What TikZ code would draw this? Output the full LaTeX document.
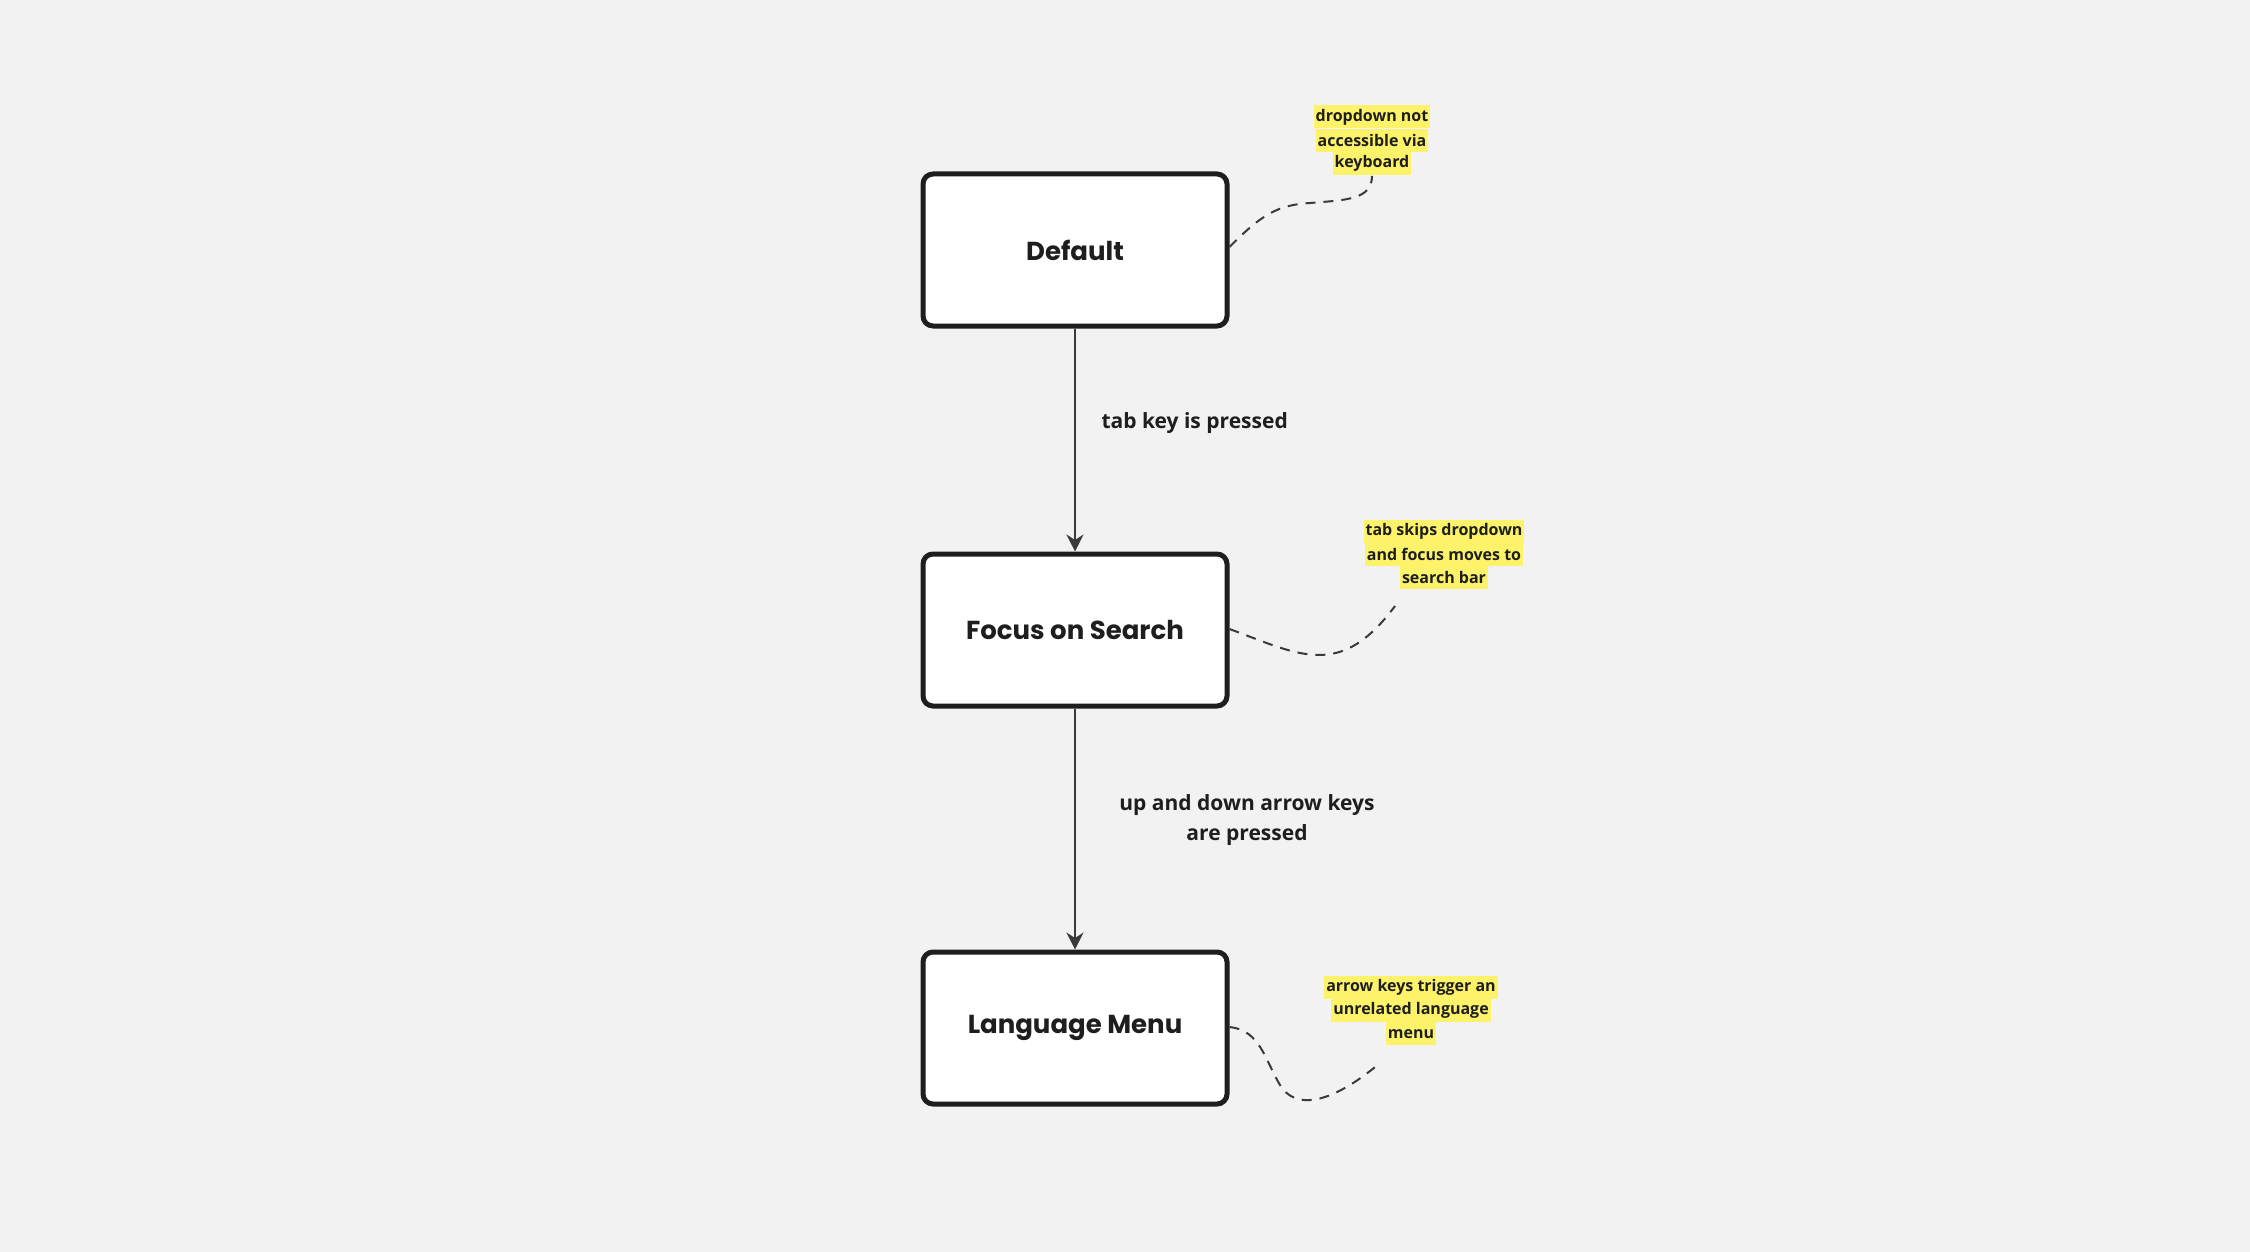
\documentclass[tikz,border=0pt]{standalone}
\usepackage{fontspec}
\setmainfont{Open Sans}
\newfontfamily\boxfont{Poppins}
\usepackage{tikz}
\usepackage{xcolor}
\usetikzlibrary{arrows.meta, positioning}

\definecolor{bgcol}{HTML}{F2F2F2}
\definecolor{inkcol}{HTML}{1E1E1E}
\definecolor{linecol}{HTML}{3A3A3A}
\definecolor{notecol}{HTML}{FCF36B}

\begin{document}
\begin{tikzpicture}[
        x=1pt, y=-1pt,
        state/.style={rectangle, rounded corners=10pt, draw=inkcol, line width=5pt, fill=white,
            minimum width=304pt, minimum height=152pt, font=\boxfont\bfseries\fontsize{26}{32}\selectfont, text=inkcol},
        trans/.style={font=\bfseries\fontsize{21}{30}\selectfont, text=inkcol, align=center},
        note/.style={fill=notecol, inner xsep=2pt, inner ysep=0pt, minimum height=23pt,
            font=\bfseries\fontsize{16}{23}\selectfont, text=inkcol},
        remark/.style={draw=linecol, line width=2pt, dash pattern=on 10pt off 8pt},
        >={Stealth[length=17pt,width=17pt]}
    ]
        % Background
        \fill[bgcol] (0,0) rectangle (2250,1252);
        \useasboundingbox (0,0) rectangle (2250,1252);

        % States
        \node[state] (D) at (1075,250) {Default};
        \node[state] (F) at (1075,630) {Focus on Search};
        \node[state] (L) at (1075,1028) {Language Menu};

        % Transitions
        \draw[->, linecol, line width=2pt] (D) -- (F);
        \draw[->, linecol, line width=2pt] (F) -- (L);
        \node[trans, anchor=west] (t1) at (1098,423) {tab key is pressed};
        \node[trans] (t2) at (1247,820) {up and down arrow keys\\are pressed};

        % Notes
        \node[note] (n1a) at (1372,117) {dropdown not};
        \node[note, below=0pt of n1a] (n1b) {accessible via};
        \node[note, below=0pt of n1b] (n1c) {keyboard};

        \node[note] (n2a) at (1444,531) {tab skips dropdown};
        \node[note, below=0pt of n2a] (n2b) {and focus moves to};
        \node[note, below=0pt of n2b] (n2c) {search bar};

        \node[note] (n3a) at (1411,987) {arrow keys trigger an};
        \node[note, below=0pt of n3a] (n3b) {unrelated language};
        \node[note, below=0pt of n3b] (n3c) {menu};

        % Note links
        \coordinate (c1) at (1372,176);
        \coordinate (c2) at (1395,606);
        \coordinate (c3) at (1380,1063);
        \draw[remark] ([yshift=3pt]D.east) .. controls (1262,214) and (1278,205) .. (1310,203)
            .. controls (1345,200) and (1372,200) .. (c1);
        \draw[remark] ([yshift=1pt]F.east) .. controls (1300,655) and (1340,680) .. (c2);
        \draw[remark] ([yshift=1pt]L.east) .. controls (1260,1030) and (1265,1060) .. (1280,1085)
            .. controls (1295,1110) and (1330,1105) .. (c3);
    \end{tikzpicture}
\end{document}
